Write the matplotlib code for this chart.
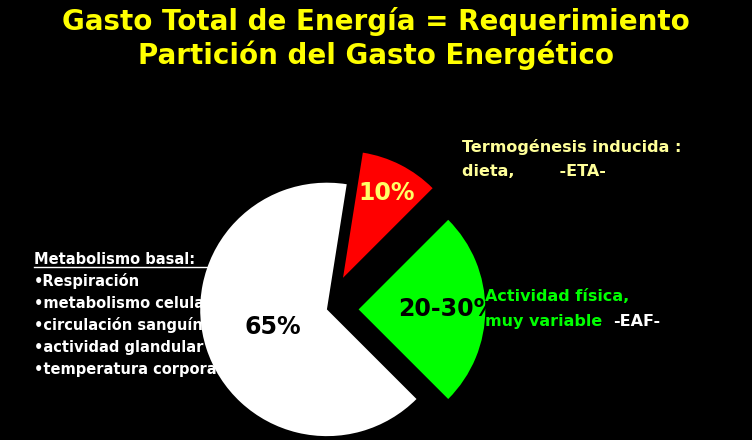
import numpy as np
import matplotlib.pyplot as plt

labels = ["65%", "20-30%", "10%"]
values = [65, 25, 10]
colors = ["white", "#00ff00", "red"]
explode = [0, 0.25, 0.28]
label_colors = ["black", "black", "#ffff66"]
label_r = [0.45, 0.7, 0.75]

fig = plt.figure(figsize=(7.52, 4.40), dpi=100, facecolor="black")
ax = fig.add_axes([0.22, -0.02, 0.48, 0.72])
ax.set_facecolor("black")

wedges, _ = ax.pie(values, colors=colors, explode=explode,
                   startangle=81, counterclock=True, radius=1.0)
ax.set_aspect("equal")
ax.set_xlim(-1.1, 1.4)
ax.set_ylim(-1.1, 1.4)
ax.axis("off")

for w, lab, c, r in zip(wedges, labels, label_colors, label_r):
    ang = np.deg2rad((w.theta1 + w.theta2) / 2)
    cx, cy = w.center
    ax.text(cx + r * np.cos(ang), cy + r * np.sin(ang), lab, fontsize=17,
            fontweight="bold", color=c, ha="center", va="center")

fig.text(0.5, 0.95, "Gasto Total de Energía = Requerimiento", color="#ffff00",
         fontsize=20, fontweight="bold", ha="center", va="center")
fig.text(0.5, 0.875, "Partición del Gasto Energético", color="#ffff00",
         fontsize=20, fontweight="bold", ha="center", va="center")

fig.text(0.615, 0.655, "Termogénesis inducida :", color="#ffff99", fontsize=11.5, fontweight="bold")
fig.text(0.615, 0.600, "dieta,        -ETA-", color="#ffff99", fontsize=11.5, fontweight="bold")

fig.text(0.645, 0.315, "Actividad física,", color="#00ff00", fontsize=11.5, fontweight="bold")
fig.text(0.645, 0.260, "muy variable", color="#00ff00", fontsize=11.5, fontweight="bold")
fig.text(0.815, 0.260, "-EAF-", color="white", fontsize=11.5, fontweight="bold")

meta = ["Metabolismo basal:", "•Respiración", "•metabolismo celular",
        "•circulación sanguínea", "•actividad glandular", "•temperatura corporal"]
for i, line in enumerate(meta):
    fig.text(0.045, 0.400 - i * 0.05, line, color="white", fontsize=10.5,
             fontweight="bold", zorder=0)
fig.add_artist(plt.Line2D([0.045, 0.285], [0.393, 0.393], color="white", lw=1))

fig.savefig("out.png", dpi=100, facecolor="black")
